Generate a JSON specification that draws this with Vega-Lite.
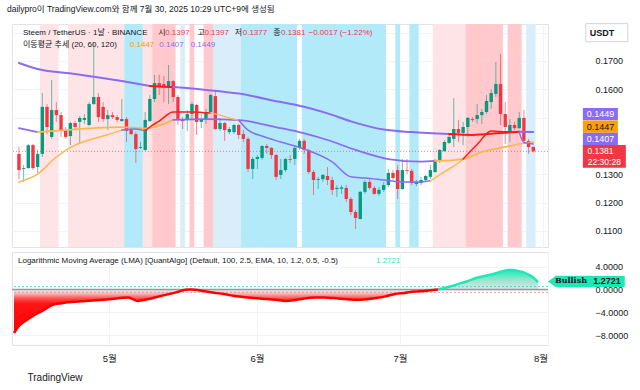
{
"$schema":"https://vega.github.io/schema/vega-lite/v6.json",
"background":"white",
"padding":{"left":7,"top":4,"right":0,"bottom":0},
"title":{"text":"dailypro이 TradingView.com와 함께 7월 30, 2025 10:29 UTC+9에 생성됨","anchor":"start","fontSize":8.5,"fontWeight":"normal","color":"#131722","offset":8,"dx":-5,"frame":"group"},
"config":{"font":"Liberation Sans, Noto Sans CJK KR, sans-serif","view":{"stroke":"#e0e3eb"},"axis":{"labelFontSize":9,"labelColor":"#131722","gridColor":"#f0f3fa","domain":false,"ticks":false,"labelOverlap":false}},
"resolve":{"scale":{"stroke":"independent","fill":"independent"}},
"spacing":3,
"datasets":{
"ohlc":[
{"d":"2025-04-11","o":0.1372,"h":0.1396,"l":0.1283,"c":0.1315},
{"d":"2025-04-12","o":0.1319,"h":0.1333,"l":0.1273,"c":0.1322},
{"d":"2025-04-13","o":0.1322,"h":0.1407,"l":0.1319,"c":0.1403},
{"d":"2025-04-14","o":0.1403,"h":0.1407,"l":0.1315,"c":0.1322},
{"d":"2025-04-15","o":0.1326,"h":0.1386,"l":0.1305,"c":0.1372},
{"d":"2025-04-16","o":0.1372,"h":0.1587,"l":0.1361,"c":0.1538},
{"d":"2025-04-17","o":0.1538,"h":0.1548,"l":0.1442,"c":0.1467},
{"d":"2025-04-18","o":0.1432,"h":0.1633,"l":0.1425,"c":0.1527},
{"d":"2025-04-19","o":0.1527,"h":0.1555,"l":0.1485,"c":0.1509},
{"d":"2025-04-20","o":0.1509,"h":0.1520,"l":0.1432,"c":0.1456},
{"d":"2025-04-21","o":0.1456,"h":0.1467,"l":0.1425,"c":0.1432},
{"d":"2025-04-22","o":0.1435,"h":0.1485,"l":0.1403,"c":0.1481},
{"d":"2025-04-23","o":0.1481,"h":0.1488,"l":0.1460,"c":0.1467},
{"d":"2025-04-24","o":0.1485,"h":0.1506,"l":0.1411,"c":0.1499},
{"d":"2025-04-25","o":0.1492,"h":0.1513,"l":0.1478,"c":0.1499},
{"d":"2025-04-26","o":0.1474,"h":0.1555,"l":0.1470,"c":0.1548},
{"d":"2025-04-27","o":0.1548,"h":0.1767,"l":0.1545,"c":0.1573},
{"d":"2025-04-28","o":0.1573,"h":0.1587,"l":0.1485,"c":0.1502},
{"d":"2025-04-29","o":0.1538,"h":0.1555,"l":0.1485,"c":0.1495},
{"d":"2025-04-30","o":0.1495,"h":0.1527,"l":0.1456,"c":0.1509},
{"d":"2025-05-01","o":0.1509,"h":0.1520,"l":0.1495,"c":0.1502},
{"d":"2025-05-02","o":0.1502,"h":0.1509,"l":0.1485,"c":0.1492},
{"d":"2025-05-03","o":0.1488,"h":0.1566,"l":0.1485,"c":0.1495},
{"d":"2025-05-04","o":0.1495,"h":0.1502,"l":0.1414,"c":0.1453},
{"d":"2025-05-05","o":0.1456,"h":0.1463,"l":0.1439,"c":0.1442},
{"d":"2025-05-06","o":0.1442,"h":0.1449,"l":0.1340,"c":0.1389},
{"d":"2025-05-07","o":0.1393,"h":0.1414,"l":0.1389,"c":0.1396},
{"d":"2025-05-08","o":0.1386,"h":0.1520,"l":0.1382,"c":0.1492},
{"d":"2025-05-09","o":0.1488,"h":0.1580,"l":0.1485,"c":0.1566},
{"d":"2025-05-10","o":0.1566,"h":0.1651,"l":0.1555,"c":0.1622},
{"d":"2025-05-11","o":0.1622,"h":0.1651,"l":0.1580,"c":0.1608},
{"d":"2025-05-12","o":0.1619,"h":0.1647,"l":0.1555,"c":0.1608},
{"d":"2025-05-13","o":0.1608,"h":0.1686,"l":0.1548,"c":0.1629},
{"d":"2025-05-14","o":0.1629,"h":0.1633,"l":0.1555,"c":0.1573},
{"d":"2025-05-15","o":0.1573,"h":0.1580,"l":0.1474,"c":0.1492},
{"d":"2025-05-16","o":0.1495,"h":0.1502,"l":0.1460,"c":0.1488},
{"d":"2025-05-17","o":0.1492,"h":0.1527,"l":0.1453,"c":0.1513},
{"d":"2025-05-18","o":0.1513,"h":0.1555,"l":0.1495,"c":0.1548},
{"d":"2025-05-19","o":0.1545,"h":0.1548,"l":0.1439,"c":0.1485},
{"d":"2025-05-20","o":0.1485,"h":0.1513,"l":0.1463,"c":0.1495},
{"d":"2025-05-21","o":0.1495,"h":0.1531,"l":0.1478,"c":0.1520},
{"d":"2025-05-22","o":0.1520,"h":0.1584,"l":0.1513,"c":0.1580},
{"d":"2025-05-23","o":0.1576,"h":0.1598,"l":0.1456,"c":0.1460},
{"d":"2025-05-24","o":0.1460,"h":0.1499,"l":0.1453,"c":0.1481},
{"d":"2025-05-25","o":0.1481,"h":0.1485,"l":0.1418,"c":0.1456},
{"d":"2025-05-26","o":0.1449,"h":0.1467,"l":0.1442,"c":0.1460},
{"d":"2025-05-27","o":0.1449,"h":0.1478,"l":0.1442,"c":0.1474},
{"d":"2025-05-28","o":0.1474,"h":0.1478,"l":0.1425,"c":0.1439},
{"d":"2025-05-29","o":0.1442,"h":0.1456,"l":0.1414,"c":0.1425},
{"d":"2025-05-30","o":0.1425,"h":0.1432,"l":0.1308,"c":0.1319},
{"d":"2025-05-31","o":0.1319,"h":0.1361,"l":0.1283,"c":0.1354},
{"d":"2025-06-01","o":0.1354,"h":0.1368,"l":0.1319,"c":0.1361},
{"d":"2025-06-02","o":0.1358,"h":0.1403,"l":0.1351,"c":0.1400},
{"d":"2025-06-03","o":0.1400,"h":0.1407,"l":0.1372,"c":0.1393},
{"d":"2025-06-04","o":0.1393,"h":0.1396,"l":0.1354,"c":0.1368},
{"d":"2025-06-05","o":0.1368,"h":0.1372,"l":0.1280,"c":0.1291},
{"d":"2025-06-06","o":0.1298,"h":0.1354,"l":0.1283,"c":0.1315},
{"d":"2025-06-07","o":0.1315,"h":0.1358,"l":0.1308,"c":0.1354},
{"d":"2025-06-08","o":0.1354,"h":0.1368,"l":0.1340,"c":0.1351},
{"d":"2025-06-09","o":0.1354,"h":0.1403,"l":0.1333,"c":0.1393},
{"d":"2025-06-10","o":0.1393,"h":0.1425,"l":0.1386,"c":0.1418},
{"d":"2025-06-11","o":0.1418,"h":0.1425,"l":0.1372,"c":0.1386},
{"d":"2025-06-12","o":0.1386,"h":0.1389,"l":0.1301,"c":0.1308},
{"d":"2025-06-13","o":0.1308,"h":0.1315,"l":0.1227,"c":0.1280},
{"d":"2025-06-14","o":0.1280,"h":0.1291,"l":0.1248,"c":0.1283},
{"d":"2025-06-15","o":0.1283,"h":0.1301,"l":0.1273,"c":0.1298},
{"d":"2025-06-16","o":0.1294,"h":0.1326,"l":0.1262,"c":0.1280},
{"d":"2025-06-17","o":0.1280,"h":0.1291,"l":0.1227,"c":0.1245},
{"d":"2025-06-18","o":0.1248,"h":0.1262,"l":0.1220,"c":0.1252},
{"d":"2025-06-19","o":0.1249,"h":0.1262,"l":0.1231,"c":0.1254},
{"d":"2025-06-20","o":0.1252,"h":0.1262,"l":0.1202,"c":0.1213},
{"d":"2025-06-21","o":0.1213,"h":0.1220,"l":0.1156,"c":0.1167},
{"d":"2025-06-22","o":0.1167,"h":0.1174,"l":0.1107,"c":0.1146},
{"d":"2025-06-23","o":0.1142,"h":0.1241,"l":0.1142,"c":0.1238},
{"d":"2025-06-24","o":0.1238,"h":0.1280,"l":0.1231,"c":0.1273},
{"d":"2025-06-25","o":0.1273,"h":0.1283,"l":0.1245,"c":0.1252},
{"d":"2025-06-26","o":0.1252,"h":0.1259,"l":0.1227,"c":0.1231},
{"d":"2025-06-27","o":0.1231,"h":0.1255,"l":0.1224,"c":0.1245},
{"d":"2025-06-28","o":0.1245,"h":0.1273,"l":0.1238,"c":0.1262},
{"d":"2025-06-29","o":0.1262,"h":0.1319,"l":0.1255,"c":0.1305},
{"d":"2025-06-30","o":0.1305,"h":0.1315,"l":0.1280,"c":0.1287},
{"d":"2025-07-01","o":0.1315,"h":0.1333,"l":0.1213,"c":0.1248},
{"d":"2025-07-02","o":0.1248,"h":0.1354,"l":0.1245,"c":0.1315},
{"d":"2025-07-03","o":0.1315,"h":0.1354,"l":0.1301,"c":0.1312},
{"d":"2025-07-04","o":0.1312,"h":0.1319,"l":0.1262,"c":0.1269},
{"d":"2025-07-05","o":0.1266,"h":0.1280,"l":0.1259,"c":0.1273},
{"d":"2025-07-06","o":0.1269,"h":0.1291,"l":0.1262,"c":0.1280},
{"d":"2025-07-07","o":0.1280,"h":0.1298,"l":0.1273,"c":0.1294},
{"d":"2025-07-08","o":0.1291,"h":0.1333,"l":0.1283,"c":0.1315},
{"d":"2025-07-09","o":0.1308,"h":0.1354,"l":0.1305,"c":0.1347},
{"d":"2025-07-10","o":0.1347,"h":0.1389,"l":0.1340,"c":0.1386},
{"d":"2025-07-11","o":0.1382,"h":0.1421,"l":0.1379,"c":0.1414},
{"d":"2025-07-12","o":0.1411,"h":0.1439,"l":0.1407,"c":0.1432},
{"d":"2025-07-13","o":0.1425,"h":0.1569,"l":0.1396,"c":0.1460},
{"d":"2025-07-14","o":0.1460,"h":0.1492,"l":0.1414,"c":0.1446},
{"d":"2025-07-15","o":0.1446,"h":0.1485,"l":0.1403,"c":0.1467},
{"d":"2025-07-16","o":0.1467,"h":0.1502,"l":0.1432,"c":0.1499},
{"d":"2025-07-17","o":0.1495,"h":0.1502,"l":0.1485,"c":0.1492},
{"d":"2025-07-18","o":0.1495,"h":0.1548,"l":0.1478,"c":0.1509},
{"d":"2025-07-19","o":0.1509,"h":0.1531,"l":0.1478,"c":0.1520},
{"d":"2025-07-20","o":0.1520,"h":0.1580,"l":0.1513,"c":0.1559},
{"d":"2025-07-21","o":0.1555,"h":0.1601,"l":0.1531,"c":0.1587},
{"d":"2025-07-22","o":0.1584,"h":0.1696,"l":0.1573,"c":0.1619},
{"d":"2025-07-23","o":0.1619,"h":0.1725,"l":0.1474,"c":0.1513},
{"d":"2025-07-24","o":0.1513,"h":0.1555,"l":0.1407,"c":0.1467},
{"d":"2025-07-25","o":0.1453,"h":0.1495,"l":0.1414,"c":0.1474},
{"d":"2025-07-26","o":0.1474,"h":0.1485,"l":0.1456,"c":0.1463},
{"d":"2025-07-27","o":0.1463,"h":0.1520,"l":0.1460,"c":0.1499},
{"d":"2025-07-28","o":0.1499,"h":0.1527,"l":0.1414,"c":0.1418},
{"d":"2025-07-29","o":0.1418,"h":0.1425,"l":0.1372,"c":0.1396},
{"d":"2025-07-30","o":0.1397,"h":0.1397,"l":0.1377,"c":0.1381}
],
"bands":[
{"s":"2025-04-15T12:00:00Z","e":"2025-04-19T12:00:00Z","z":"상승약"},
{"s":"2025-04-21T12:00:00Z","e":"2025-05-03T12:00:00Z","z":"상승약"},
{"s":"2025-05-03T12:00:00Z","e":"2025-05-07T12:00:00Z","z":"하락강"},
{"s":"2025-05-07T12:00:00Z","e":"2025-05-09T12:00:00Z","z":"상승약"},
{"s":"2025-05-09T12:00:00Z","e":"2025-05-14T12:00:00Z","z":"상승강"},
{"s":"2025-05-15T12:00:00Z","e":"2025-05-16T12:00:00Z","z":"하락약"},
{"s":"2025-05-17T12:00:00Z","e":"2025-05-18T12:00:00Z","z":"상승강"},
{"s":"2025-05-20T12:00:00Z","e":"2025-05-22T12:00:00Z","z":"상승강"},
{"s":"2025-05-22T12:00:00Z","e":"2025-05-28T12:00:00Z","z":"하락약"},
{"s":"2025-05-28T12:00:00Z","e":"2025-06-09T12:00:00Z","z":"하락강"},
{"s":"2025-06-10T12:00:00Z","e":"2025-06-28T12:00:00Z","z":"하락강"},
{"s":"2025-06-30T12:00:00Z","e":"2025-07-01T12:00:00Z","z":"하락강"},
{"s":"2025-07-03T12:00:00Z","e":"2025-07-05T12:00:00Z","z":"하락강"},
{"s":"2025-07-08T12:00:00Z","e":"2025-07-15T12:00:00Z","z":"상승약"},
{"s":"2025-07-15T12:00:00Z","e":"2025-07-23T12:00:00Z","z":"상승강"},
{"s":"2025-07-24T12:00:00Z","e":"2025-07-27T12:00:00Z","z":"상승강"},
{"s":"2025-07-28T12:00:00Z","e":"2025-07-30T12:00:00Z","z":"하락약"}
],
"ma":[
{"d":"2025-04-11","v":0.1693,"seg":"120a","ma":120,"st":"하락"},
{"d":"2025-04-15","v":0.1672,"seg":"120a","ma":120,"st":"하락"},
{"d":"2025-04-23","v":0.1654,"seg":"120a","ma":120,"st":"하락"},
{"d":"2025-05-03","v":0.1629,"seg":"120a","ma":120,"st":"하락"},
{"d":"2025-05-09","v":0.1612,"seg":"120a","ma":120,"st":"하락"},
{"d":"2025-05-09","v":0.1612,"seg":"120b","ma":120,"st":"상승"},
{"d":"2025-05-11","v":0.1610,"seg":"120b","ma":120,"st":"상승"},
{"d":"2025-05-14","v":0.1608,"seg":"120b","ma":120,"st":"상승"},
{"d":"2025-05-14","v":0.1608,"seg":"120c","ma":120,"st":"하락"},
{"d":"2025-05-21","v":0.1598,"seg":"120c","ma":120,"st":"하락"},
{"d":"2025-05-28","v":0.1585,"seg":"120c","ma":120,"st":"하락"},
{"d":"2025-06-06","v":0.1555,"seg":"120c","ma":120,"st":"하락"},
{"d":"2025-06-10","v":0.1542,"seg":"120c","ma":120,"st":"하락"},
{"d":"2025-06-16","v":0.1515,"seg":"120c","ma":120,"st":"하락"},
{"d":"2025-06-21","v":0.1487,"seg":"120c","ma":120,"st":"하락"},
{"d":"2025-06-28","v":0.1458,"seg":"120c","ma":120,"st":"하락"},
{"d":"2025-07-04","v":0.1449,"seg":"120c","ma":120,"st":"하락"},
{"d":"2025-07-12","v":0.1442,"seg":"120c","ma":120,"st":"하락"},
{"d":"2025-07-12","v":0.1442,"seg":"120d","ma":120,"st":"상승"},
{"d":"2025-07-17","v":0.1439,"seg":"120d","ma":120,"st":"상승"},
{"d":"2025-07-23","v":0.1446,"seg":"120d","ma":120,"st":"상승"},
{"d":"2025-07-27","v":0.1450,"seg":"120d","ma":120,"st":"상승"},
{"d":"2025-07-27","v":0.1450,"seg":"120e","ma":120,"st":"하락"},
{"d":"2025-07-30","v":0.1449,"seg":"120e","ma":120,"st":"하락"},
{"d":"2025-04-11","v":0.1463,"seg":"60a","ma":60,"st":"하락"},
{"d":"2025-04-13","v":0.1456,"seg":"60a","ma":60,"st":"하락"},
{"d":"2025-04-15","v":0.1449,"seg":"60a","ma":60,"st":"하락"},
{"d":"2025-04-15","v":0.1449,"seg":"60b","ma":60,"st":"중립"},
{"d":"2025-04-21","v":0.1456,"seg":"60b","ma":60,"st":"중립"},
{"d":"2025-04-27","v":0.1463,"seg":"60b","ma":60,"st":"중립"},
{"d":"2025-05-03","v":0.1467,"seg":"60b","ma":60,"st":"중립"},
{"d":"2025-05-08","v":0.1462,"seg":"60b","ma":60,"st":"중립"},
{"d":"2025-05-14","v":0.1492,"seg":"60b","ma":60,"st":"중립"},
{"d":"2025-05-14","v":0.1492,"seg":"60c","ma":60,"st":"하락"},
{"d":"2025-05-21","v":0.1495,"seg":"60c","ma":60,"st":"하락"},
{"d":"2025-05-28","v":0.1491,"seg":"60c","ma":60,"st":"하락"},
{"d":"2025-06-06","v":0.1463,"seg":"60c","ma":60,"st":"하락"},
{"d":"2025-06-10","v":0.1449,"seg":"60c","ma":60,"st":"하락"},
{"d":"2025-06-16","v":0.1421,"seg":"60c","ma":60,"st":"하락"},
{"d":"2025-06-22","v":0.1386,"seg":"60c","ma":60,"st":"하락"},
{"d":"2025-06-29","v":0.1354,"seg":"60c","ma":60,"st":"하락"},
{"d":"2025-07-06","v":0.1345,"seg":"60c","ma":60,"st":"하락"},
{"d":"2025-07-09","v":0.1347,"seg":"60c","ma":60,"st":"하락"},
{"d":"2025-07-09","v":0.1347,"seg":"60d","ma":60,"st":"중립"},
{"d":"2025-07-15","v":0.1354,"seg":"60d","ma":60,"st":"중립"},
{"d":"2025-07-19","v":0.1379,"seg":"60d","ma":60,"st":"중립"},
{"d":"2025-07-23","v":0.1393,"seg":"60d","ma":60,"st":"중립"},
{"d":"2025-07-27","v":0.1407,"seg":"60d","ma":60,"st":"중립"},
{"d":"2025-07-30","v":0.1414,"seg":"60d","ma":60,"st":"중립"},
{"d":"2025-04-11","v":0.1273,"seg":"20a","ma":20,"st":"중립"},
{"d":"2025-04-15","v":0.1301,"seg":"20a","ma":20,"st":"중립"},
{"d":"2025-04-19","v":0.1361,"seg":"20a","ma":20,"st":"중립"},
{"d":"2025-04-23","v":0.1403,"seg":"20a","ma":20,"st":"중립"},
{"d":"2025-04-26","v":0.1421,"seg":"20a","ma":20,"st":"중립"},
{"d":"2025-04-29","v":0.1435,"seg":"20a","ma":20,"st":"중립"},
{"d":"2025-05-03","v":0.1456,"seg":"20a","ma":20,"st":"중립"},
{"d":"2025-05-03","v":0.1456,"seg":"20b","ma":20,"st":"하락"},
{"d":"2025-05-06","v":0.1460,"seg":"20b","ma":20,"st":"하락"},
{"d":"2025-05-08","v":0.1453,"seg":"20b","ma":20,"st":"하락"},
{"d":"2025-05-08","v":0.1453,"seg":"20c","ma":20,"st":"상승"},
{"d":"2025-05-09","v":0.1467,"seg":"20c","ma":20,"st":"상승"},
{"d":"2025-05-11","v":0.1488,"seg":"20c","ma":20,"st":"상승"},
{"d":"2025-05-14","v":0.1520,"seg":"20c","ma":20,"st":"상승"},
{"d":"2025-05-18","v":0.1520,"seg":"20c","ma":20,"st":"상승"},
{"d":"2025-05-22","v":0.1516,"seg":"20c","ma":20,"st":"상승"},
{"d":"2025-05-22","v":0.1516,"seg":"20d","ma":20,"st":"중립"},
{"d":"2025-05-24","v":0.1509,"seg":"20d","ma":20,"st":"중립"},
{"d":"2025-05-26","v":0.1499,"seg":"20d","ma":20,"st":"중립"},
{"d":"2025-05-28","v":0.1491,"seg":"20d","ma":20,"st":"중립"},
{"d":"2025-05-28","v":0.1491,"seg":"20e","ma":20,"st":"하락"},
{"d":"2025-05-30","v":0.1456,"seg":"20e","ma":20,"st":"하락"},
{"d":"2025-06-02","v":0.1435,"seg":"20e","ma":20,"st":"하락"},
{"d":"2025-06-06","v":0.1414,"seg":"20e","ma":20,"st":"하락"},
{"d":"2025-06-11","v":0.1389,"seg":"20e","ma":20,"st":"하락"},
{"d":"2025-06-17","v":0.1344,"seg":"20e","ma":20,"st":"하락"},
{"d":"2025-06-21","v":0.1291,"seg":"20e","ma":20,"st":"하락"},
{"d":"2025-06-24","v":0.1287,"seg":"20e","ma":20,"st":"하락"},
{"d":"2025-06-28","v":0.1280,"seg":"20e","ma":20,"st":"하락"},
{"d":"2025-07-02","v":0.1273,"seg":"20e","ma":20,"st":"하락"},
{"d":"2025-07-06","v":0.1273,"seg":"20e","ma":20,"st":"하락"},
{"d":"2025-07-08","v":0.1277,"seg":"20e","ma":20,"st":"하락"},
{"d":"2025-07-08","v":0.1277,"seg":"20f","ma":20,"st":"중립"},
{"d":"2025-07-10","v":0.1298,"seg":"20f","ma":20,"st":"중립"},
{"d":"2025-07-12","v":0.1319,"seg":"20f","ma":20,"st":"중립"},
{"d":"2025-07-14","v":0.1340,"seg":"20f","ma":20,"st":"중립"},
{"d":"2025-07-15","v":0.1354,"seg":"20f","ma":20,"st":"중립"},
{"d":"2025-07-15","v":0.1354,"seg":"20g","ma":20,"st":"상승"},
{"d":"2025-07-18","v":0.1405,"seg":"20g","ma":20,"st":"상승"},
{"d":"2025-07-21","v":0.1453,"seg":"20g","ma":20,"st":"상승"},
{"d":"2025-07-24","v":0.1450,"seg":"20g","ma":20,"st":"상승"},
{"d":"2025-07-27","v":0.1449,"seg":"20g","ma":20,"st":"상승"},
{"d":"2025-07-27","v":0.1449,"seg":"20h","ma":20,"st":"하락"},
{"d":"2025-07-28","v":0.1412,"seg":"20h","ma":20,"st":"하락"},
{"d":"2025-07-30","v":0.1407,"seg":"20h","ma":20,"st":"하락"}
],
"lma":[
{"d":"2025-04-11","v":-7.6,"z":"약세"},
{"d":"2025-04-12","v":-6.4,"z":"약세"},
{"d":"2025-04-13","v":-5.7,"z":"약세"},
{"d":"2025-04-15","v":-4.6,"z":"약세"},
{"d":"2025-04-17","v":-3.7,"z":"약세"},
{"d":"2025-04-19","v":-2.7,"z":"약세"},
{"d":"2025-04-21","v":-2.4,"z":"약세"},
{"d":"2025-04-23","v":-2.2,"z":"약세"},
{"d":"2025-04-26","v":-2.0,"z":"약세"},
{"d":"2025-05-01","v":-1.7,"z":"약세"},
{"d":"2025-05-05","v":-1.4,"z":"약세"},
{"d":"2025-05-07","v":-2.0,"z":"약세"},
{"d":"2025-05-09","v":-1.7,"z":"약세"},
{"d":"2025-05-11","v":-1.3,"z":"약세"},
{"d":"2025-05-13","v":-0.9,"z":"약세"},
{"d":"2025-05-15","v":-0.5,"z":"약세"},
{"d":"2025-05-17","v":-0.05,"z":"약세"},
{"d":"2025-05-18","v":0,"z":"약세"},
{"d":"2025-05-19","v":-0.05,"z":"약세"},
{"d":"2025-05-21","v":-0.3,"z":"약세"},
{"d":"2025-05-23","v":-0.55,"z":"약세"},
{"d":"2025-05-25","v":-0.8,"z":"약세"},
{"d":"2025-05-27","v":-1.1,"z":"약세"},
{"d":"2025-05-30","v":-1.4,"z":"약세"},
{"d":"2025-06-02","v":-1.6,"z":"약세"},
{"d":"2025-06-05","v":-1.8,"z":"약세"},
{"d":"2025-06-07","v":-2.0,"z":"약세"},
{"d":"2025-06-10","v":-1.7,"z":"약세"},
{"d":"2025-06-13","v":-1.4,"z":"약세"},
{"d":"2025-06-15","v":-1.4,"z":"약세"},
{"d":"2025-06-17","v":-1.5,"z":"약세"},
{"d":"2025-06-20","v":-1.7,"z":"약세"},
{"d":"2025-06-22","v":-1.8,"z":"약세"},
{"d":"2025-06-24","v":-1.7,"z":"약세"},
{"d":"2025-06-26","v":-1.5,"z":"약세"},
{"d":"2025-06-28","v":-1.2,"z":"약세"},
{"d":"2025-06-30","v":-0.8,"z":"약세"},
{"d":"2025-07-02","v":-0.6,"z":"약세"},
{"d":"2025-07-04","v":-0.35,"z":"약세"},
{"d":"2025-07-06","v":-0.25,"z":"약세"},
{"d":"2025-07-08","v":-0.1,"z":"약세"},
{"d":"2025-07-09","v":0,"z":"약세"},
{"d":"2025-07-09","v":0,"z":"강세"},
{"d":"2025-07-11","v":0.4,"z":"강세"},
{"d":"2025-07-13","v":0.9,"z":"강세"},
{"d":"2025-07-15","v":1.4,"z":"강세"},
{"d":"2025-07-17","v":2.0,"z":"강세"},
{"d":"2025-07-19","v":2.4,"z":"강세"},
{"d":"2025-07-21","v":2.8,"z":"강세"},
{"d":"2025-07-23","v":3.3,"z":"강세"},
{"d":"2025-07-24","v":3.4,"z":"강세"},
{"d":"2025-07-25","v":3.35,"z":"강세"},
{"d":"2025-07-26","v":3.2,"z":"강세"},
{"d":"2025-07-27","v":3.0,"z":"강세"},
{"d":"2025-07-28","v":2.6,"z":"강세"},
{"d":"2025-07-29","v":2.1,"z":"강세"},
{"d":"2025-07-30","v":1.2721,"z":"강세"}
]
},
"vconcat":[
{
"width":536,"height":223,
"layer":[
{"data":{"name":"bands"},"mark":{"type":"rect"},
 "encoding":{
  "x":{"field":"s","type":"temporal","scale":{"type":"utc","domain":[1744293600000,1754013600000]},"axis":{"values":[1746057600000,1748736000000,1751328000000,1754006400000],"tickCount":10,"labels":false,"grid":true,"title":null}},
  "x2":{"field":"e"},
  "fill":{"field":"z","type":"nominal","scale":{"domain":["상승약","상승강","하락약","하락강"],"range":["#ffe4e7","#ffc9cd","#d9eefa","#b3eafa"]},"legend":null}}},
{"data":{"name":"ohlc"},"mark":{"type":"rule","strokeWidth":1},
 "encoding":{
  "x":{"field":"d","type":"temporal"},
  "y":{"field":"l","type":"quantitative","scale":{"domain":[0.10434,0.18306],"zero":false,"nice":false},"axis":{"orient":"right","values":[0.11,0.12,0.13,0.14,0.15,0.16,0.17,0.18],"tickCount":20,"labelExpr":"(datum.value > 0.135 && datum.value < 0.155) || datum.value > 0.175 ? '' : format(datum.value, '.4f')","offset":45,"labelPadding":2,"labelOverlap":false,"labelBound":false,"labelFlush":false,"grid":true,"title":null}},
  "y2":{"field":"h"},
  "color":{"condition":{"test":"datum.c >= datum.o","value":"#089981"},"value":"#f23645"},
  "opacity":{"value":0.6}}},
{"data":{"name":"ohlc"},"mark":{"type":"bar","width":3.4},
 "encoding":{
  "x":{"field":"d","type":"temporal"},
  "y":{"field":"o","type":"quantitative"},
  "y2":{"field":"c"},
  "color":{"condition":{"test":"datum.c >= datum.o","value":"#089981"},"value":"#f23645"}}},
{"data":{"values":[{}]},"mark":{"type":"rule","strokeDash":[1,2],"color":"#f23645","opacity":0.6},"encoding":{"y":{"datum":0.1381}}},
{"data":{"name":"ma"},"mark":{"type":"line","interpolate":"monotone","strokeCap":"round"},
 "encoding":{
  "x":{"field":"d","type":"temporal"},
  "y":{"field":"v","type":"quantitative"},
  "detail":{"field":"seg"},
  "stroke":{"field":"st","type":"nominal","scale":{"domain":["하락","중립","상승"],"range":["#8a6cf2","#ffb74d","#ff1a1a"]},"legend":null},
  "strokeWidth":{"field":"ma","type":"ordinal","scale":{"domain":[20,60,120],"range":[1.5,2,3.5]},"legend":null}}},
{"data":{"values":[{}]},"mark":{"type":"text","align":"left","baseline":"middle","fontSize":8,"color":"#131722"},"encoding":{"x":{"datum":1744402406000,"type":"temporal"},"y":{"datum":0.17988},"text":{"value":"Steem / TetherUS · 1날 · BINANCE"}}},
{"data":{"values":[{}]},"mark":{"type":"text","align":"left","baseline":"middle","fontSize":8,"color":"#131722"},"encoding":{"x":{"datum":1746904943000,"type":"temporal"},"y":{"datum":0.17988},"text":{"value":"시"}}},
{"data":{"values":[{}]},"mark":{"type":"text","align":"left","baseline":"middle","fontSize":8,"color":"#f23645"},"encoding":{"x":{"datum":1747031884000,"type":"temporal"},"y":{"datum":0.17988},"text":{"value":"0.1397"}}},
{"data":{"values":[{}]},"mark":{"type":"text","align":"left","baseline":"middle","fontSize":8,"color":"#131722"},"encoding":{"x":{"datum":1747630316000,"type":"temporal"},"y":{"datum":0.17988},"text":{"value":"고"}}},
{"data":{"values":[{}]},"mark":{"type":"text","align":"left","baseline":"middle","fontSize":8,"color":"#f23645"},"encoding":{"x":{"datum":1747757257000,"type":"temporal"},"y":{"datum":0.17988},"text":{"value":"0.1397"}}},
{"data":{"values":[{}]},"mark":{"type":"text","align":"left","baseline":"middle","fontSize":8,"color":"#131722"},"encoding":{"x":{"datum":1748319421000,"type":"temporal"},"y":{"datum":0.17988},"text":{"value":"저"}}},
{"data":{"values":[{}]},"mark":{"type":"text","align":"left","baseline":"middle","fontSize":8,"color":"#f23645"},"encoding":{"x":{"datum":1748464495000,"type":"temporal"},"y":{"datum":0.17988},"text":{"value":"0.1377"}}},
{"data":{"values":[{}]},"mark":{"type":"text","align":"left","baseline":"middle","fontSize":8,"color":"#131722"},"encoding":{"x":{"datum":1749026660000,"type":"temporal"},"y":{"datum":0.17988},"text":{"value":"종"}}},
{"data":{"values":[{}]},"mark":{"type":"text","align":"left","baseline":"middle","fontSize":8,"color":"#f23645"},"encoding":{"x":{"datum":1749171734000,"type":"temporal"},"y":{"datum":0.17988},"text":{"value":"0.1381"}}},
{"data":{"values":[{}]},"mark":{"type":"text","align":"left","baseline":"middle","fontSize":8,"color":"#f23645"},"encoding":{"x":{"datum":1749679495000,"type":"temporal"},"y":{"datum":0.17988},"text":{"value":"−0.0017 (−1.22%)"}}},
{"data":{"values":[{}]},"mark":{"type":"text","align":"left","baseline":"middle","fontSize":8,"color":"#131722"},"encoding":{"x":{"datum":1744402406000,"type":"temporal"},"y":{"datum":0.17554},"text":{"value":"이동평균 추세 (20, 60, 120)"}}},
{"data":{"values":[{}]},"mark":{"type":"text","align":"left","baseline":"middle","fontSize":8,"color":"#ff9800"},"encoding":{"x":{"datum":1746379048000,"type":"temporal"},"y":{"datum":0.17554},"text":{"value":"0.1447"}}},
{"data":{"values":[{}]},"mark":{"type":"text","align":"left","baseline":"middle","fontSize":8,"color":"#8a6cf2"},"encoding":{"x":{"datum":1746923078000,"type":"temporal"},"y":{"datum":0.17554},"text":{"value":"0.1407"}}},
{"data":{"values":[{}]},"mark":{"type":"text","align":"left","baseline":"middle","fontSize":8,"color":"#8a6cf2"},"encoding":{"x":{"datum":1747503376000,"type":"temporal"},"y":{"datum":0.17554},"text":{"value":"0.1449"}}},
{"data":{"values":[{}]},"mark":{"type":"point","shape":"M-1,-0.43L1,-0.43L1,0.43L-1,0.43Z","size":1764,"filled":true,"fill":"white","stroke":"#d1d4dc","strokeWidth":1,"opacity":1},"encoding":{"x":{"datum":1755192331000,"type":"temporal"},"y":{"datum":0.18}}},
{"data":{"values":[{}]},"mark":{"type":"text","align":"center","baseline":"middle","fontSize":9,"fontWeight":"bold","color":"#131722"},"encoding":{"x":{"datum":1755101659000,"type":"temporal"},"y":{"datum":0.18},"text":{"value":"USDT"}}},
{"data":{"values":[{}]},"mark":{"type":"point","shape":"M-1,-0.354L1,-0.354L1,0.354L-1,0.354Z","size":1225,"filled":true,"color":"#8a6cf2","opacity":1,"yOffset":-18},"encoding":{"x":{"datum":1755074458000,"type":"temporal"},"y":{"datum":0.1449}}},
{"data":{"values":[{}]},"mark":{"type":"text","align":"center","baseline":"middle","fontSize":9,"color":"white","yOffset":-18},"encoding":{"x":{"datum":1755074458000,"type":"temporal"},"y":{"datum":0.1449},"text":{"value":"0.1449"}}},
{"data":{"values":[{}]},"mark":{"type":"point","shape":"M-1,-0.354L1,-0.354L1,0.354L-1,0.354Z","size":1225,"filled":true,"color":"#ffa000","opacity":1,"yOffset":-6},"encoding":{"x":{"datum":1755074458000,"type":"temporal"},"y":{"datum":0.1447}}},
{"data":{"values":[{}]},"mark":{"type":"text","align":"center","baseline":"middle","fontSize":9,"color":"#131722","yOffset":-6},"encoding":{"x":{"datum":1755074458000,"type":"temporal"},"y":{"datum":0.1447},"text":{"value":"0.1447"}}},
{"data":{"values":[{}]},"mark":{"type":"point","shape":"M-1,-0.354L1,-0.354L1,0.354L-1,0.354Z","size":1225,"filled":true,"color":"#8a6cf2","opacity":1,"yOffset":-5},"encoding":{"x":{"datum":1755074458000,"type":"temporal"},"y":{"datum":0.1407}}},
{"data":{"values":[{}]},"mark":{"type":"text","align":"center","baseline":"middle","fontSize":9,"color":"white","yOffset":-5},"encoding":{"x":{"datum":1755074458000,"type":"temporal"},"y":{"datum":0.1407},"text":{"value":"0.1407"}}},
{"data":{"values":[{}]},"mark":{"type":"point","shape":"M-1,-0.53L1,-0.53L1,0.53L-1,0.53Z","size":1849,"filled":true,"color":"#f23645","opacity":1,"yOffset":5},"encoding":{"x":{"datum":1755146995000,"type":"temporal"},"y":{"datum":0.1381}}},
{"data":{"values":[{}]},"mark":{"type":"text","align":"center","baseline":"middle","fontSize":8.5,"color":"white","yOffset":-0.5},"encoding":{"x":{"datum":1755074458000,"type":"temporal"},"y":{"datum":0.1381},"text":{"value":"0.1381"}}},
{"data":{"values":[{}]},"mark":{"type":"text","align":"center","baseline":"middle","fontSize":8.5,"color":"white","yOffset":10.5},"encoding":{"x":{"datum":1755146995000,"type":"temporal"},"y":{"datum":0.1381},"text":{"value":"22:30:28"}}}
]
},
{
"width":536,"height":93,
"layer":[
{"data":{"name":"lma"},"transform":[{"filter":"datum.z == '약세'"}],
 "mark":{"type":"area","interpolate":"monotone","color":{"x1":0,"y1":0,"x2":0,"y2":1,"gradient":"linear","stops":[{"offset":0,"color":"#efefef"},{"offset":0.08,"color":"#f4c4c4"},{"offset":0.2,"color":"#ff5555"},{"offset":0.32,"color":"#ff1515"},{"offset":1,"color":"#ff0000"}]}},
 "encoding":{
  "x":{"field":"d","type":"temporal","scale":{"type":"utc","domain":[1744293600000,1754013600000]},"axis":{"values":[1746057600000,1748736000000,1751328000000,1754006400000],"tickCount":10,"labelExpr":"(utcmonth(datum.value)+1) + '월'","labelPadding":8,"labelFontSize":9.5,"grid":true,"title":"TradingView","titleAnchor":"start","titleAlign":"left","titleX":15,"titlePadding":10,"titleFontSize":10,"titleFontWeight":"normal","titleColor":"#131722"}},
  "y":{"field":"v","type":"quantitative","scale":{"domain":[-9.7,6.556],"zero":false,"nice":false},"axis":{"orient":"right","values":[-8,-4,0,4],"tickCount":10,"format":".4f","offset":45,"labelPadding":2,"labelOverlap":false,"labelBound":false,"labelFlush":false,"grid":true,"title":null}},
  "y2":{"datum":0}}},
{"data":{"name":"lma"},"transform":[{"filter":"datum.z == '강세'"}],
 "mark":{"type":"area","interpolate":"monotone","color":{"x1":0,"y1":0,"x2":0,"y2":1,"gradient":"linear","stops":[{"offset":0,"color":"#1de9b6"},{"offset":0.5,"color":"#93e6cd"},{"offset":1,"color":"#e4e4e4"}]}},
 "encoding":{"x":{"field":"d","type":"temporal"},"y":{"field":"v","type":"quantitative"},"y2":{"datum":0}}},
{"data":{"values":[{}]},"mark":{"type":"rule","color":"#9598a1","strokeWidth":1.5},"encoding":{"y":{"datum":0}}},
{"data":{"values":[{}]},"mark":{"type":"rule","color":"#4dd0e1","strokeWidth":1,"strokeDash":[2,2]},"encoding":{"y":{"datum":0.5}}},
{"data":{"values":[{}]},"mark":{"type":"rule","color":"#ef9a9a","strokeWidth":1,"strokeDash":[2,2]},"encoding":{"y":{"datum":-0.5}}},
{"data":{"name":"lma"},"mark":{"type":"line","interpolate":"monotone","strokeWidth":2.5},
 "encoding":{"x":{"field":"d","type":"temporal"},"y":{"field":"v","type":"quantitative"},"detail":{"field":"z"},
  "color":{"field":"z","type":"nominal","scale":{"domain":["약세","강세"],"range":["#ff0000","#1de9b6"]},"legend":null}}},
{"data":{"values":[{}]},"mark":{"type":"text","align":"left","baseline":"middle","fontSize":8,"color":"#131722"},"encoding":{"x":{"datum":1744402406000,"type":"temporal"},"y":{"datum":4.93},"text":{"value":"Logarithmic Moving Average (LMA) [QuantAlgo] (Default, 100, 2.5, EMA, 10, 1.2, 0.5, -0.5)"}}},
{"data":{"values":[{}]},"mark":{"type":"text","align":"left","baseline":"middle","fontSize":8,"color":"#1de9b6"},"encoding":{"x":{"datum":1750894495000,"type":"temporal"},"y":{"datum":4.93},"text":{"value":"1.2721"}}},
{"data":{"values":[{}]},"mark":{"type":"point","shape":"M-1,0L-0.63,-0.27L1,-0.27L1,0.27L-0.63,0.27Z","size":1849,"filled":true,"color":"#1de9b6","opacity":1},"encoding":{"x":{"datum":1754403538000,"type":"temporal"},"y":{"datum":1.4}}},
{"data":{"values":[{}]},"mark":{"type":"text","align":"center","baseline":"middle","fontSize":8,"fontWeight":"bold","font":"DejaVu Serif","color":"#131722"},"encoding":{"x":{"datum":1754430000000,"type":"temporal"},"y":{"datum":1.4},"text":{"value":"Bullish"}}},
{"data":{"values":[{}]},"mark":{"type":"point","shape":"M-1,-0.31L1,-0.31L1,0.31L-1,0.31Z","size":1260,"filled":true,"color":"#1de9b6","opacity":1},"encoding":{"x":{"datum":1755083525000,"type":"temporal"},"y":{"datum":1.4}}},
{"data":{"values":[{}]},"mark":{"type":"text","align":"center","baseline":"middle","fontSize":9,"fontWeight":"bold","color":"#131722"},"encoding":{"x":{"datum":1755083525000,"type":"temporal"},"y":{"datum":1.4},"text":{"value":"1.2721"}}}
]
}
]
}
